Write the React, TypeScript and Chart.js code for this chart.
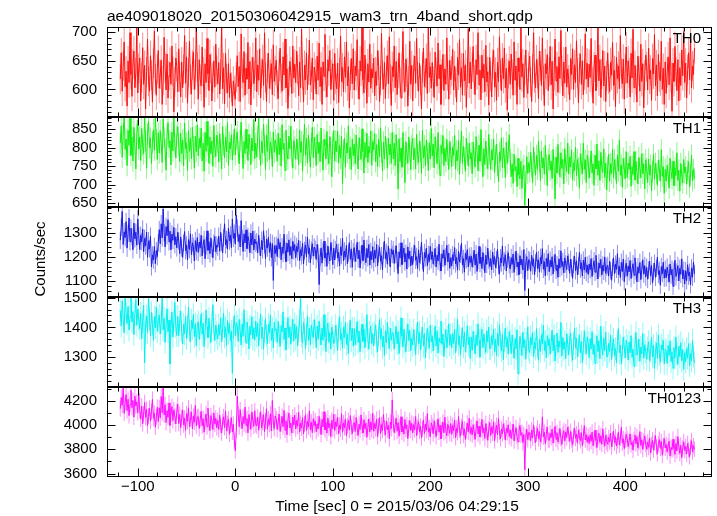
import { useEffect, useRef } from "react";
import { Chart, registerables } from "chart.js";

Chart.register(...registerables);

const TITLE = "ae409018020_20150306042915_wam3_trn_4band_short.qdp";
const X_TITLE = "Time [sec] 0 = 2015/03/06 04:29:15";
const Y_TITLE = "Counts/sec";

// time grid of the light curve (sec): first bin and bin width
const T_START = -118;
const T_STEP = 1;

const TH0 = [
  618, 664, 597, 641, 683, 605, 632, 571, 650, 612, 699, 626, 588, 645, 667, 603, 629, 710, 594, 637,
  655, 580, 621, 673, 609, 642, 566, 631, 688, 614, 597, 659, 625, 578, 646, 702, 619, 590, 636, 668,
  602, 627, 651, 574, 616, 691, 638, 599, 662, 585, 624, 647, 609, 676, 632, 561, 613, 655, 640, 596,
  671, 622, 587, 648, 603, 635, 694, 611, 657, 576, 629, 684, 617, 592, 643, 665, 600, 626, 708, 639,
  583, 652, 618, 606, 674, 631, 569, 645, 612, 689, 627, 598, 661, 637, 580, 621, 650, 604, 679, 633,
  610, 647, 592, 626, 712, 601, 638, 575, 663, 619, 594, 645, 586, 628, 604, 571, 615, 598, 583, 622,
  659, 605, 640, 579, 697, 628, 612, 666, 590, 637, 618, 682, 601, 649, 573, 631, 656, 610, 624, 690,
  596, 643, 616, 671, 585, 628, 652, 607, 699, 621, 579, 638, 663, 602, 626, 645, 591, 678, 614, 633,
  651, 608, 584, 640, 672, 619, 597, 657, 625, 688, 603, 636, 567, 614, 649, 630, 593, 676, 620, 644,
  612, 667, 635, 589, 648, 603, 705, 626, 578, 642, 617, 664, 599, 634, 686, 608, 621, 655, 582, 639,
  627, 592, 658, 616, 681, 605, 639, 574, 648, 623, 696, 611, 587, 652, 632, 668, 600, 626, 645, 581,
  663, 618, 601, 646, 577, 629, 693, 614, 638, 596, 657, 621, 683, 606, 640, 568, 625, 654, 610, 671,
  599, 641, 624, 687, 609, 583, 650, 632, 711, 617, 594, 660, 627, 576, 645, 613, 679, 602, 636, 620,
  655, 589, 631, 607, 668, 642, 579, 616, 698, 625, 601, 647, 584, 633, 659, 610, 692, 618, 572, 640,
  622, 676, 603, 649, 591, 628, 664, 613, 585, 637, 701, 620, 596, 653, 630, 571, 615, 684, 609, 642,
  580, 634, 658, 611, 689, 623, 597, 646, 616, 566, 639, 672, 605, 628, 654, 593, 715, 621, 640, 602,
  647, 614, 586, 665, 630, 606, 681, 619, 643, 574, 627, 661, 598, 636, 609, 690, 624, 583, 651, 617,
  632, 670, 599, 641, 612, 578, 656, 625, 687, 604, 638, 590, 663, 615, 643, 569, 629, 706, 611, 648,
  601, 639, 675, 617, 591, 652, 626, 699, 608, 634, 582, 660, 620, 644, 596, 677, 613, 631, 573, 656,
  623, 587, 644, 668, 604, 630, 581, 647, 613, 692, 626, 598, 655, 619, 672, 603, 637, 564, 628, 650,
  609, 662, 627, 590, 683, 616, 641, 574, 655, 631, 600, 708, 622, 645, 586, 634, 669, 611, 593, 640,
  658, 613, 579, 636, 699, 620, 603, 652, 628, 584, 667, 641, 607, 690, 616, 572, 645, 627, 661, 598,
  631, 675, 608, 649, 566, 624, 688, 615, 640, 595, 657, 619, 703, 632, 589, 648, 611, 674, 604, 636,
  617, 582, 654, 626, 671, 600, 643, 612, 685, 629, 577, 638, 662, 609, 650, 591, 625, 697, 618, 646,
  604, 644, 621, 689, 613, 576, 639, 660, 598, 630, 712, 615, 652, 586, 627, 668, 606, 641, 579, 624,
  664, 618, 596, 647, 625, 682, 607, 633, 570, 656, 619, 641, 601, 694, 628, 610, 653, 583, 636, 674,
  611, 650, 629, 587, 663, 620, 705, 603, 642, 616, 578, 658, 632, 597, 679, 614, 645, 568, 625, 660,
  640, 599, 672, 618, 634, 581, 654, 627, 696, 606, 643, 589, 661, 622, 615, 684, 600, 637, 574, 648,
  593, 629, 657, 608, 690, 621, 562, 646, 614, 675, 631, 598, 652, 580, 638, 607, 669, 624, 701, 612,
  646, 585, 635, 664, 617, 693, 603, 641, 626, 672,
];

const TH1 = [
  812, 859, 774, 836, 891, 795, 823, 751, 847, 806, 883, 779, 828, 764, 855, 810, 742, 837, 874, 796,
  829, 765, 852, 806, 783, 889, 818, 744, 837, 871, 799, 826, 757, 814, 848, 793, 886, 821, 768, 840,
  785, 846, 812, 760, 878, 827, 796, 739, 834, 868, 801, 819, 753, 842, 791, 885, 810, 772, 831, 857,
  807, 762, 839, 784, 821, 751, 866, 797, 813, 738, 846, 790, 826, 770, 855, 803, 744, 831, 789, 862,
  778, 825, 799, 853, 764, 812, 736, 841, 790, 871, 806, 757, 829, 783, 818, 749, 860, 801, 776, 834,
  816, 761, 838, 795, 742, 857, 807, 773, 829, 789, 868, 752, 814, 797, 835, 766, 808, 851, 780, 822,
  843, 788, 756, 821, 869, 802, 743, 817, 784, 850, 797, 765, 836, 809, 754, 826, 791, 876, 770, 812,
  774, 829, 881, 796, 752, 818, 785, 863, 807, 741, 834, 790, 877, 768, 815, 799, 748, 842, 787, 821,
  806, 763, 839, 781, 826, 750, 862, 795, 812, 738, 847, 785, 769, 831, 797, 858, 776, 744, 819, 801,
  768, 823, 796, 754, 848, 787, 816, 737, 806, 863, 779, 825, 758, 834, 792, 747, 811, 855, 773, 828,
  799, 751, 836, 784, 815, 762, 853, 790, 739, 822, 807, 769, 844, 781, 756, 830, 798, 721, 812, 846,
  763, 818, 789, 845, 758, 806, 771, 831, 702, 794, 825, 747, 812, 786, 859, 769, 801, 741, 823, 778,
  810, 756, 834, 781, 742, 827, 795, 768, 851, 789, 731, 814, 773, 839, 760, 803, 786, 845, 752, 817,
  794, 838, 761, 808, 749, 822, 776, 854, 788, 737, 815, 769, 831, 798, 744, 826, 781, 810, 757, 842,
  769, 812, 751, 835, 790, 688, 824, 762, 799, 747, 841, 778, 705, 816, 784, 757, 829, 793, 740, 806,
  825, 767, 798, 742, 836, 781, 759, 817, 790, 730, 847, 772, 805, 751, 821, 786, 738, 813, 769, 852,
  777, 810, 745, 829, 793, 756, 841, 770, 724, 806, 784, 833, 751, 798, 762, 822, 780, 741, 816, 789,
  748, 801, 779, 833, 741, 792, 764, 819, 727, 788, 845, 757, 803, 772, 736, 826, 785, 750, 812, 769,
  786, 729, 815, 772, 748, 830, 791, 737, 806, 763, 849, 779, 721, 797, 754, 818, 770, 743, 836, 782,
  741, 794, 767, 822, 733, 779, 810, 752, 708, 788, 764, 826, 746, 799, 773, 719, 815, 757, 790, 835,
  768, 721, 756, 703, 782, 737, 749, 694, 771, 726, 715, 763, 689, 741, 752, 643, 708, 776, 730, 759,
  734, 787, 748, 706, 801, 759, 725, 779, 741, 817, 763, 711, 790, 745, 772, 728, 806, 753, 697, 768,
  781, 739, 763, 716, 795, 748, 661, 774, 731, 809, 755, 720, 786, 744, 768, 702, 797, 752, 735, 812,
  728, 775, 747, 794, 712, 759, 738, 801, 724, 768, 745, 690, 783, 756, 729, 812, 741, 767, 705, 779,
  763, 717, 748, 791, 731, 756, 698, 779, 742, 810, 725, 764, 711, 787, 746, 733, 797, 719, 758, 685,
  747, 782, 709, 756, 730, 795, 718, 767, 741, 703, 779, 736, 820, 725, 752, 692, 771, 744, 715, 789,
  719, 758, 741, 776, 695, 749, 727, 789, 712, 762, 734, 701, 773, 745, 718, 784, 730, 756, 688, 767,
  744, 705, 769, 726, 752, 683, 736, 781, 714, 757, 730, 698, 766, 739, 709, 794, 722, 748, 676, 741,
  709, 752, 728, 690, 771, 735, 716, 763, 697, 745, 724, 786, 711, 739, 682, 757, 726, 704, 768, 731,
  748, 701, 737, 762, 693, 726, 779, 710, 741, 717,
];

const TH2 = [
  1268, 1322, 1387, 1251, 1303, 1279, 1345, 1236, 1296, 1360, 1262, 1318, 1283, 1229, 1339, 1274, 1301, 1248, 1356, 1287,
  1230, 1289, 1262, 1314, 1221, 1276, 1245, 1302, 1198, 1266, 1233, 1285, 1159, 1208, 1187, 1243, 1172, 1226, 1201, 1258,
  1312, 1254, 1336, 1278, 1397, 1299, 1241, 1325, 1287, 1353, 1262, 1306, 1229, 1294, 1268, 1321, 1250, 1283, 1237, 1301,
  1265, 1213, 1282, 1237, 1198, 1256, 1304, 1226, 1249, 1187, 1271, 1230, 1295, 1209, 1258, 1243, 1183, 1267, 1222, 1279,
  1218, 1261, 1236, 1289, 1204, 1250, 1271, 1192, 1244, 1307, 1227, 1262, 1213, 1278, 1235, 1196, 1256, 1284, 1221, 1248,
  1240, 1285, 1223, 1301, 1259, 1216, 1278, 1336, 1249, 1271, 1232, 1318, 1265, 1290, 1238, 1355, 1276, 1297, 1252, 1372,
  1318, 1263, 1292, 1241, 1349, 1276, 1222, 1295, 1257, 1311, 1234, 1284, 1265, 1217, 1298, 1249, 1306, 1228, 1273, 1255,
  1262, 1216, 1289, 1241, 1204, 1268, 1229, 1307, 1250, 1193, 1273, 1236, 1281, 1218, 1259, 1197, 1255, 1103, 1246, 1214,
  1247, 1201, 1275, 1232, 1259, 1188, 1241, 1214, 1293, 1226, 1180, 1257, 1219, 1270, 1206, 1243, 1192, 1264, 1225, 1251,
  1196, 1243, 1221, 1268, 1184, 1230, 1204, 1257, 1171, 1226, 1249, 1199, 1282, 1213, 1237, 1175, 1228, 1254, 1203, 1240,
  1231, 1189, 1252, 1213, 1086, 1198, 1237, 1174, 1222, 1265, 1195, 1216, 1161, 1244, 1207, 1183, 1259, 1223, 1168, 1236,
  1187, 1229, 1252, 1195, 1218, 1163, 1241, 1206, 1276, 1183, 1224, 1198, 1247, 1171, 1215, 1259, 1190, 1233, 1157, 1221,
  1238, 1181, 1215, 1260, 1192, 1227, 1154, 1209, 1248, 1185, 1269, 1203, 1176, 1235, 1196, 1251, 1166, 1222, 1188, 1242,
  1176, 1227, 1194, 1251, 1163, 1212, 1239, 1182, 1205, 1147, 1226, 1264, 1191, 1218, 1170, 1244, 1199, 1158, 1233, 1210,
  1229, 1173, 1210, 1246, 1185, 1131, 1221, 1195, 1258, 1168, 1207, 1236, 1179, 1214, 1150, 1241, 1192, 1224, 1163, 1203,
  1168, 1215, 1247, 1186, 1201, 1152, 1229, 1177, 1206, 1260, 1184, 1139, 1218, 1195, 1236, 1164, 1210, 1181, 1243, 1189,
  1221, 1170, 1198, 1235, 1158, 1207, 1183, 1252, 1176, 1142, 1213, 1194, 1229, 1165, 1201, 1248, 1179, 1216, 1153, 1197,
  1162, 1209, 1184, 1238, 1171, 1197, 1145, 1223, 1180, 1211, 1256, 1167, 1193, 1137, 1215, 1188, 1230, 1159, 1202, 1176,
  1204, 1158, 1191, 1227, 1166, 1212, 1140, 1185, 1243, 1173, 1199, 1152, 1218, 1180, 1135, 1207, 1169, 1236, 1187, 1161,
  1193, 1147, 1220, 1170, 1201, 1156, 1188, 1231, 1164, 1129, 1196, 1175, 1245, 1162, 1183, 1209, 1142, 1190, 1217, 1168,
  1150, 1197, 1169, 1212, 1136, 1185, 1224, 1158, 1179, 1127, 1205, 1166, 1191, 1146, 1230, 1062, 1176, 1201, 1143, 1189,
  1184, 1141, 1207, 1163, 1192, 1126, 1175, 1219, 1152, 1188, 1137, 1198, 1171, 1234, 1149, 1180, 1122, 1194, 1160, 1213,
  1139, 1186, 1158, 1201, 1129, 1174, 1210, 1145, 1167, 1116, 1192, 1153, 1225, 1160, 1181, 1134, 1196, 1171, 1148, 1204,
  1177, 1132, 1190, 1155, 1112, 1169, 1203, 1143, 1184, 1126, 1162, 1218, 1150, 1176, 1121, 1187, 1145, 1199, 1136, 1166,
  1128, 1171, 1147, 1193, 1119, 1160, 1184, 1137, 1206, 1144, 1109, 1175, 1153, 1190, 1125, 1166, 1141, 1200, 1132, 1158,
  1165, 1121, 1182, 1143, 1104, 1157, 1196, 1130, 1170, 1149, 1213, 1127, 1161, 1115, 1178, 1139, 1191, 1098, 1152, 1174,
  1120, 1163, 1138, 1185, 1111, 1150, 1172, 1124, 1196, 1142, 1097, 1159, 1133, 1177, 1106, 1146, 1188, 1129, 1164, 1117,
  1157, 1108, 1146, 1183, 1121, 1165, 1092, 1139, 1174, 1116, 1153, 1199, 1127, 1144, 1083, 1160, 1131, 1178, 1112, 1149,
  1114, 1158, 1132, 1096, 1171, 1125, 1149, 1079, 1141, 1186, 1119, 1137, 1164, 1101, 1153, 1128, 1192, 1110, 1145, 1088,
  1143, 1102, 1168, 1121, 1137, 1085, 1155, 1116, 1179, 1130,
];

const TH3 = [
  1457, 1404, 1489, 1428, 1382, 1511, 1446, 1413, 1470, 1391, 1435, 1502, 1418, 1453, 1376, 1441, 1494, 1407, 1462, 1425,
  1396, 1447, 1361, 1420, 1475, 1281, 1405, 1438, 1383, 1509, 1429, 1372, 1450, 1411, 1357, 1436, 1399, 1468, 1387, 1423,
  1442, 1378, 1417, 1506, 1392, 1431, 1350, 1408, 1463, 1385, 1425, 1277, 1399, 1451, 1368, 1419, 1484, 1402, 1373, 1437,
  1372, 1421, 1455, 1386, 1344, 1410, 1379, 1437, 1362, 1403, 1468, 1390, 1351, 1424, 1396, 1443, 1369, 1412, 1338, 1406,
  1419, 1360, 1398, 1446, 1377, 1414, 1335, 1389, 1458, 1402, 1366, 1431, 1383, 1349, 1417, 1476, 1392, 1356, 1408, 1381,
  1361, 1409, 1374, 1432, 1351, 1395, 1448, 1367, 1401, 1339, 1423, 1380, 1413, 1356, 1387, 1246, 1398, 1440, 1372, 1416,
  1405, 1353, 1427, 1389, 1341, 1412, 1370, 1459, 1384, 1347, 1418, 1393, 1328, 1404, 1375, 1436, 1362, 1399, 1357, 1421,
  1369, 1414, 1338, 1392, 1445, 1363, 1401, 1327, 1386, 1429, 1372, 1346, 1410, 1383, 1441, 1356, 1397, 1331, 1417, 1390,
  1395, 1349, 1420, 1371, 1336, 1406, 1384, 1452, 1359, 1398, 1325, 1381, 1433, 1366, 1402, 1343, 1390, 1427, 1354, 1412,
  1361, 1403, 1338, 1387, 1422, 1503, 1370, 1348, 1416, 1393, 1329, 1378, 1438, 1356, 1397, 1342, 1408, 1381, 1365, 1426,
  1389, 1332, 1405, 1360, 1421, 1376, 1341, 1398, 1357, 1443, 1368, 1319, 1392, 1414, 1350, 1383, 1327, 1401, 1373, 1346,
  1352, 1408, 1371, 1323, 1394, 1436, 1359, 1381, 1330, 1402, 1366, 1417, 1343, 1378, 1311, 1389, 1424, 1355, 1398, 1337,
  1396, 1341, 1377, 1420, 1349, 1388, 1318, 1369, 1411, 1353, 1395, 1331, 1374, 1443, 1360, 1327, 1384, 1405, 1346, 1379,
  1338, 1384, 1409, 1352, 1318, 1376, 1427, 1361, 1395, 1334, 1370, 1306, 1389, 1348, 1416, 1365, 1329, 1398, 1357, 1383,
  1381, 1327, 1368, 1403, 1344, 1386, 1312, 1360, 1432, 1371, 1335, 1394, 1350, 1318, 1377, 1411, 1356, 1390, 1322, 1364,
  1340, 1392, 1357, 1309, 1374, 1418, 1346, 1383, 1324, 1363, 1401, 1338, 1379, 1297, 1354, 1396, 1365, 1330, 1408, 1351,
  1372, 1321, 1360, 1405, 1337, 1389, 1314, 1365, 1349, 1421, 1343, 1378, 1302, 1355, 1393, 1331, 1368, 1412, 1340, 1376,
  1331, 1379, 1346, 1394, 1315, 1358, 1427, 1341, 1371, 1308, 1362, 1399, 1334, 1384, 1319, 1353, 1406, 1342, 1367, 1296,
  1368, 1323, 1387, 1350, 1311, 1374, 1339, 1412, 1357, 1300, 1365, 1394, 1332, 1378, 1345, 1316, 1389, 1351, 1401, 1328,
  1329, 1372, 1342, 1395, 1317, 1360, 1304, 1381, 1338, 1409, 1349, 1322, 1376, 1291, 1355, 1398, 1334, 1365, 1310, 1386,
  1357, 1312, 1375, 1336, 1296, 1363, 1328, 1392, 1244, 1318, 1370, 1343, 1305, 1384, 1331, 1359, 1293, 1347, 1402, 1325,
  1315, 1368, 1341, 1383, 1302, 1350, 1327, 1396, 1333, 1290, 1361, 1319, 1376, 1345, 1407, 1322, 1354, 1298, 1372, 1339,
  1362, 1310, 1349, 1391, 1321, 1374, 1287, 1340, 1381, 1316, 1355, 1333, 1417, 1304, 1366, 1326, 1352, 1295, 1378, 1343,
  1308, 1357, 1381, 1322, 1290, 1346, 1398, 1331, 1363, 1301, 1339, 1374, 1315, 1352, 1282, 1329, 1389, 1344, 1311, 1368,
  1349, 1298, 1362, 1327, 1386, 1310, 1343, 1279, 1337, 1372, 1318, 1355, 1295, 1404, 1331, 1307, 1365, 1322, 1384, 1301,
  1303, 1346, 1319, 1374, 1292, 1337, 1361, 1305, 1329, 1281, 1352, 1396, 1314, 1340, 1277, 1323, 1368, 1334, 1298, 1357,
  1338, 1290, 1351, 1315, 1372, 1299, 1327, 1269, 1344, 1383, 1307, 1322, 1361, 1286, 1334, 1311, 1379, 1296, 1342, 1318,
  1293, 1331, 1352, 1288, 1320, 1367, 1301, 1339, 1262, 1316, 1348, 1296, 1375, 1309, 1283, 1341, 1324, 1356, 1278, 1327,
  1321, 1279, 1340, 1306, 1355, 1285, 1318, 1263, 1332, 1297, 1368, 1311, 1276, 1337, 1302, 1349, 1288, 1326, 1259, 1315,
  1284, 1329, 1297, 1346, 1271, 1312, 1288, 1357, 1303, 1281,
];

const TH0123 = [
  4135, 4228, 4162, 4305, 4097, 4186, 4251, 4119, 4213, 4078, 4170, 4289, 4144, 4203, 4066, 4239, 4157, 4192, 4101, 4264,
  4122, 4048, 4157, 4011, 4090, 4186, 4062, 4131, 3995, 4074, 4140, 4033, 4109, 4212, 4056, 4098, 3983, 4066, 4147, 4029,
  4143, 4059, 4236, 4102, 4310, 4084, 4168, 4021, 4119, 4065, 4183, 3998, 4090, 4152, 4037, 4126, 4075, 4009, 4111, 4171,
  4013, 4088, 3979, 4062, 4125, 4001, 4057, 3956, 4094, 4031, 4142, 3987, 4049, 4108, 3968, 4073, 4024, 4161, 3993, 4066,
  4071, 3972, 4046, 4113, 3995, 4054, 3941, 4027, 4092, 3986, 4140, 4019, 3953, 4078, 4036, 3962, 4101, 4008, 4057, 3979,
  4039, 3964, 4082, 3996, 3935, 4027, 4068, 3980, 4115, 3951, 4012, 4049, 3925, 3998, 4061, 3942, 4006, 3871, 3789, 3958,
  4239, 4092, 3986, 4128, 4035, 3971, 4070, 4012, 4148, 3998, 4054, 3936, 4087, 4026, 3965, 4109, 4041, 3990, 4118, 4003,
  3992, 4067, 3958, 4041, 4110, 3977, 4022, 4086, 3944, 4035, 4135, 3966, 4051, 4004, 4093, 3952, 4203, 4018, 3971, 4076,
  4052, 3963, 4028, 4091, 3947, 4009, 4072, 3985, 4121, 3958, 4035, 3920, 4044, 4098, 3976, 4017, 3934, 4067, 3999, 4083,
  3968, 4039, 3991, 4104, 3942, 4016, 3975, 4062, 3927, 4010, 4085, 3955, 4031, 3983, 4118, 3962, 4024, 3938, 4052, 3996,
  4035, 3946, 4011, 3969, 4072, 3993, 3921, 4048, 3985, 4110, 3961, 4022, 3934, 4057, 3977, 4014, 3905, 4040, 3970, 4089,
  3954, 4026, 3988, 4065, 3927, 4001, 3966, 4094, 3941, 4018, 3979, 4051, 3912, 3995, 4039, 3958, 4078, 3983, 3930, 4007,
  4021, 3947, 4063, 3975, 3915, 4008, 3962, 4084, 3990, 3936, 4045, 3969, 4016, 3899, 3981, 4052, 3942, 4027, 3960, 4098,
  3949, 4015, 3968, 4049, 3904, 3993, 4062, 3931, 4004, 3956, 4087, 3977, 3920, 4033, 3962, 3998, 3887, 4025, 3971, 4208,
  4012, 3938, 3996, 4057, 3950, 4021, 3908, 3985, 4069, 3943, 3991, 3925, 4046, 3967, 4002, 3889, 3974, 4038, 3956, 4015,
  3936, 4004, 3962, 4071, 3914, 3983, 4029, 3947, 3990, 3895, 3969, 4043, 3930, 4008, 3957, 4095, 3941, 3977, 3902, 4019,
  3993, 3928, 4037, 3959, 3905, 3980, 4052, 3941, 3998, 3886, 3966, 4024, 3937, 4065, 3950, 3913, 4006, 3972, 3931, 4013,
  3924, 3998, 3953, 4042, 3897, 3975, 3939, 4071, 3960, 3908, 3986, 4030, 3916, 3969, 3881, 3955, 4017, 3943, 4058, 3930,
  3981, 3919, 4003, 3945, 3882, 3970, 4036, 3927, 3991, 3903, 3962, 4047, 3935, 3978, 3890, 4012, 3947, 3874, 3966, 4021,
  3914, 3986, 3932, 4028, 3871, 3957, 3999, 3920, 4054, 3943, 3889, 3968, 3928, 4011, 3950, 3876, 3973, 3937, 4002, 3905,
  3961, 3889, 3944, 4009, 3870, 3932, 3978, 3905, 3862, 3951, 3997, 3915, 3938, 3856, 3924, 3630, 3903, 3967, 3880, 3941,
  3936, 3872, 3960, 3894, 4002, 3917, 3856, 3928, 3975, 3888, 3946, 3861, 3911, 4068, 3902, 3941, 3847, 3925, 3983, 3879,
  3874, 3932, 3896, 3966, 3851, 3918, 3990, 3882, 3937, 3859, 3909, 3971, 3890, 3840, 3925, 3954, 3868, 3944, 3897, 3983,
  3929, 3865, 3947, 3880, 3838, 3913, 3975, 3891, 3926, 3850, 3960, 3904, 3872, 3938, 3829, 3908, 3996, 3877, 3921, 3859,
  3906, 3848, 3921, 3867, 3942, 3830, 3889, 3958, 3873, 3815, 3899, 3934, 3856, 3912, 3841, 3969, 3882, 3827, 3917, 3862,
  3842, 3897, 3861, 3934, 3819, 3882, 3950, 3855, 3904, 3828, 3872, 3941, 3836, 3893, 3981, 3851, 3888, 3806, 3875, 3922,
  3886, 3823, 3871, 3927, 3837, 3862, 3793, 3880, 3919, 3845, 3904, 3810, 3858, 3946, 3832, 3879, 3799, 3866, 3911, 3841,
  3802, 3859, 3816, 3893, 3771, 3838, 3877, 3795, 3852, 3912, 3817, 3763, 3846, 3881, 3808, 3864, 3752, 3829, 3890, 3811,
  3840, 3779, 3827, 3868, 3744, 3816, 3795, 3883, 3806, 3758, 3849, 3787, 3905, 3820, 3767, 3834, 3731, 3812, 3862, 3790,
  3823, 3762, 3848, 3796, 3740, 3817, 3871, 3778, 3830, 3801,
];

const BANDS = ["TH0", "TH1", "TH2", "TH3", "TH0123"];
const SERIES = [TH0, TH1, TH2, TH3, TH0123];
const ERRORS = [26, 29, 36, 38, 65];

const Y_MIN = [552, 639, 1035, 1200, 3572];
const Y_MAX = [709, 883, 1405, 1502, 4314];
const Y_TICKS = [
  [600, 650, 700],
  [650, 700, 750, 800, 850],
  [1100, 1200, 1300],
  [1300, 1400, 1500],
  [3600, 3800, 4000, 4200],
];
const Y_MINOR = [10, 10, 20, 20, 100];

const X_MIN = -131.6;
const X_MAX = 489;
const X_TICKS = [-100, 0, 100, 200, 300, 400];
const X_MINOR = 20;

const LINE_COLORS = ["#ff0f0f", "#0ff00f", "#1a1ae6", "#00f0f0", "#ff0fff"];
const ERR_COLORS = ["#ff8c8c", "#8cf78c", "#8c8cf5", "#8cfafa", "#ff8cff"];

const FONT = "'Liberation Sans', Arial, Helvetica, sans-serif";
const TICK_SIZE = 15;
const TEXT_SIZE = 15.5;

const fmt = (v: number) => (v < 0 ? "\u2212" + Math.abs(v) : String(v));

const panelPlugin = {
  id: "qdpPanels",
  beforeDatasetDraw(chart: any, args: any) {
    const i = args.index;
    const meta = args.meta;
    const xs = meta.xScale;
    const ys = meta.yScale;
    const ctx = chart.ctx;
    const data = chart.data.datasets[i].data;
    const err = ERRORS[i];
    ctx.save();
    ctx.beginPath();
    ctx.rect(xs.left, ys.top, xs.right - xs.left, ys.bottom - ys.top);
    ctx.clip();
    ctx.strokeStyle = ERR_COLORS[i];
    ctx.lineWidth = 1;
    ctx.beginPath();
    for (const p of data) {
      const px = xs.getPixelForValue(p.x);
      ctx.moveTo(px, ys.getPixelForValue(p.y - err));
      ctx.lineTo(px, ys.getPixelForValue(p.y + err));
    }
    ctx.stroke();
    ctx.restore();
  },
  afterDraw(chart: any) {
    const ctx = chart.ctx;
    const xs = chart.scales.x;
    ctx.save();
    ctx.strokeStyle = "#000";
    ctx.fillStyle = "#000";
    ctx.lineWidth = 1;
    const L = Math.round(xs.left) + 0.5;
    const R = Math.round(xs.right) - 0.5;
    for (let i = 0; i < SERIES.length; i++) {
      const ys = chart.scales["y" + i];
      const T = Math.round(ys.top) + 0.5;
      const B = Math.round(ys.bottom) - 0.5;
      ctx.strokeRect(L, T, R - L, B - T);
      ctx.beginPath();
      for (let v = Math.ceil(X_MIN / X_MINOR) * X_MINOR; v <= X_MAX; v += X_MINOR) {
        const px = Math.round(xs.getPixelForValue(v)) + 0.5;
        const len = X_TICKS.includes(v) ? 8 : 4;
        ctx.moveTo(px, T);
        ctx.lineTo(px, T + len);
        ctx.moveTo(px, B);
        ctx.lineTo(px, B - len);
      }
      const step = Y_MINOR[i];
      for (let v = Math.ceil(Y_MIN[i] / step) * step; v <= Y_MAX[i]; v += step) {
        const py = Math.round(ys.getPixelForValue(v)) + 0.5;
        const len = Y_TICKS[i].includes(v) ? 8 : 4;
        ctx.moveTo(L, py);
        ctx.lineTo(L + len, py);
        ctx.moveTo(R, py);
        ctx.lineTo(R - len, py);
      }
      ctx.stroke();
      ctx.font = `${TICK_SIZE}px ${FONT}`;
      ctx.textAlign = "right";
      ctx.textBaseline = "alphabetic";
      ctx.fillText(BANDS[i], xs.right - 11, ys.top + 16);
    }
    ctx.font = `${TEXT_SIZE}px ${FONT}`;
    ctx.textAlign = "left";
    ctx.textBaseline = "alphabetic";
    ctx.fillText(TITLE, xs.left, 21);
    ctx.textAlign = "center";
    ctx.fillText(X_TITLE, 397, 511);
    ctx.font = `${TICK_SIZE}px ${FONT}`;
    ctx.translate(41, 259);
    ctx.rotate(-Math.PI / 2);
    ctx.textBaseline = "middle";
    ctx.fillText(Y_TITLE, 0, 0);
    ctx.restore();
  },
};

export default function App() {
  const ref = useRef<HTMLCanvasElement | null>(null);

  useEffect(() => {
    if (!ref.current) return;
    const datasets = SERIES.map((vals, i) => ({
      label: BANDS[i],
      data: vals.map((v, k) => ({ x: T_START + k * T_STEP, y: v })),
      yAxisID: "y" + i,
      xAxisID: "x",
      borderColor: LINE_COLORS[i],
      borderWidth: 1,
      pointRadius: 0,
      tension: 0,
      fill: false,
    }));

    const scales: any = {
      x: {
        type: "linear",
        position: "bottom",
        min: X_MIN,
        max: X_MAX,
        grid: { display: false, drawTicks: false },
        border: { display: false },
        ticks: {
          padding: 1,
          color: "#000",
          font: { family: FONT, size: TICK_SIZE },
          autoSkip: false,
          maxRotation: 0,
          callback: (v: any) => fmt(Number(v)),
        },
        afterBuildTicks: (s: any) => {
          s.ticks = X_TICKS.map((v) => ({ value: v }));
        },
        afterFit: (s: any) => {
          s.height = 39;
        },
      },
    };
    SERIES.forEach((_, i) => {
      scales["y" + i] = {
        type: "linear",
        position: "left",
        stack: "panels",
        stackWeight: 1,
        weight: SERIES.length - i,
        min: Y_MIN[i],
        max: Y_MAX[i],
        grid: { display: false, drawTicks: false },
        border: { display: false },
        ticks: {
          padding: 10,
          color: "#000",
          font: { family: FONT, size: TICK_SIZE },
          autoSkip: false,
          callback: (v: any) => fmt(Number(v)),
        },
        afterBuildTicks: (s: any) => {
          s.ticks = Y_TICKS[i].map((v) => ({ value: v }));
        },
        afterFit: (s: any) => {
          s.width = 107;
        },
      };
    });

    const chart = new Chart(ref.current, {
      type: "line",
      data: { datasets },
      options: {
        animation: false,
        responsive: false,
        maintainAspectRatio: false,
        devicePixelRatio: 1,
        layout: { padding: { left: 0, right: 5, top: 27, bottom: 0 } },
        plugins: {
          legend: { display: false },
          tooltip: { enabled: false },
          title: { display: false },
        },
        scales,
      },
      plugins: [panelPlugin],
    } as any);
    return () => chart.destroy();
  }, []);

  return (
    <div style={{ position: "absolute", left: 0, top: 0, width: 717, height: 516, background: "#fff" }}>
      <canvas ref={ref} width={717} height={516} style={{ display: "block" }} />
    </div>
  );
}
